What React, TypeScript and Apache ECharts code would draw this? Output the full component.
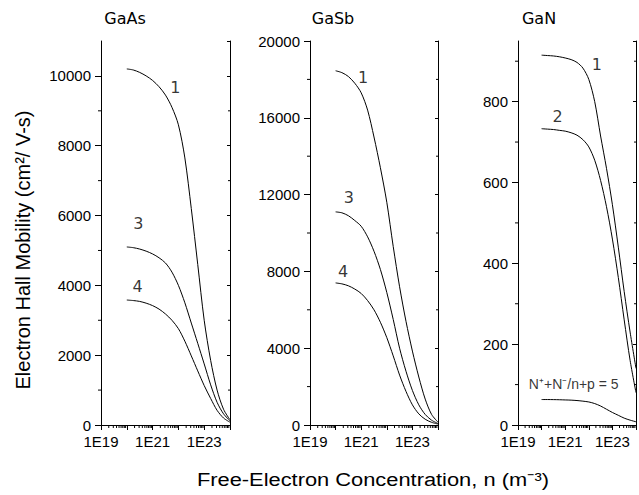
import React, { useEffect, useRef } from 'react';
import * as echarts from 'echarts';

// Free-electron concentration n (m^-3), quarter-decade sample points shared by all curves
const concentration = [
  1e20, 1.78e20, 3.16e20, 5.62e20, 1e21, 1.78e21, 3.16e21, 5.62e21, 1e22,
  1.78e22, 3.16e22, 5.62e22, 1e23, 1.78e23, 3.16e23, 5.62e23, 1e24,
];

// GaAs mobility (cm^2/V-s)
const gaAs1 = [10200, 10170, 10100, 10000, 9870, 9690, 9450, 9100, 8600, 7650, 6200, 4600, 3000, 1850, 1000, 450, 150];
const gaAs3 = [5100, 5080, 5040, 4980, 4900, 4790, 4640, 4380, 4000, 3500, 2920, 2340, 1750, 1150, 650, 320, 120];
const gaAs4 = [3580, 3565, 3540, 3490, 3420, 3320, 3180, 3000, 2760, 2400, 1980, 1550, 1130, 760, 420, 200, 80];

// GaSb mobility
const gaSb1 = [18450, 18350, 18150, 17800, 17300, 16400, 15000, 13400, 11600, 9300, 7200, 5400, 3850, 2500, 1350, 550, 150];
const gaSb3 = [11100, 11050, 10900, 10650, 10350, 9800, 9050, 8100, 6900, 5500, 4000, 2800, 1800, 1050, 550, 250, 80];
const gaSb4 = [7400, 7350, 7250, 7080, 6850, 6480, 6000, 5350, 4550, 3600, 2600, 1750, 1050, 580, 300, 140, 50];

// GaN mobility
const gaN1 = [915, 914, 913, 911, 908, 904, 897, 883, 855, 800, 715, 635, 545, 440, 330, 230, 140];
const gaN2 = [733, 732, 731, 729, 727, 723, 717, 706, 688, 655, 605, 540, 460, 365, 260, 160, 80];
const gaN5 = [63, 63, 62.8, 62.5, 62, 61.5, 60.5, 59, 57, 53, 47, 39, 31, 24, 17, 12, 8];

// Curve annotations (data coordinates)
const gaAsNotes = [
  { name: '1', value: [7.6e21, 9670] },
  { name: '3', value: [2.8e20, 5760] },
  { name: '4', value: [2.6e20, 3980] },
];
const gaSbNotes = [
  { name: '1', value: [1.18e21, 18100] },
  { name: '3', value: [3.3e20, 11850] },
  { name: '4', value: [1.95e20, 8020] },
];
const gaNNotes = [
  { name: '1', value: [2.2e22, 893] },
  { name: '2', value: [4.8e20, 764] },
];
const gaNRatioNote = [{ name: 'N⁺+N⁻/n+p = 5', value: [2.3e21, 101] }];

const panelTitles = ['GaAs', 'GaSb', 'GaN'];
const yMaxes = [11000, 20000, 950];
const yIntervals = [2000, 4000, 200];
const yMinorTicks = [
  [1000, 3000, 5000, 7000, 9000],
  [2000, 6000, 10000, 14000, 18000],
  [100, 300, 500, 700, 900],
];
const decadeStarts = [1e19, 1e20, 1e21, 1e22, 1e23];
const minorMultipliers = [2, 3, 4, 5, 6, 7, 8, 9];

const yAxisTitle = 'Electron Hall Mobility (cm²/ V-s)';
const xAxisTitle = 'Free-Electron Concentration, n (m⁻³)';

const BLACK = '#000';
const TICK_FONT = 'Liberation Sans';
const NOTE_FONT = 'DejaVu Sans';

export default function App() {
  const ref = useRef<HTMLDivElement>(null);

  useEffect(() => {
    if (!ref.current) return;
    const chart = echarts.init(ref.current, undefined, { renderer: 'svg' });

    const layout = [
      { left: 101, width: 129 },
      { left: 310, width: 128 },
      { left: 518, width: 128 },
    ];
    const curves = [
      [gaAs1, gaAs3, gaAs4],
      [gaSb1, gaSb3, gaSb4],
      [gaN1, gaN2, gaN5],
    ];
    const notes = [gaAsNotes, gaSbNotes, gaNNotes];

    const grids: any[] = [];
    const xAxes: any[] = [];
    const yAxes: any[] = [];
    const series: any[] = [];

    const xMinor: number[][] = [];
    decadeStarts.forEach((d) => minorMultipliers.forEach((m) => xMinor.push([d * m, 0])));

    const noteLabel = (font: string, size: number) => ({
      show: true,
      position: 'inside',
      formatter: (p: any) => p.name,
      color: BLACK,
      textBorderWidth: 0,
      fontFamily: font,
      fontSize: size,
    });

    layout.forEach((l, i) => {
      grids.push({ left: l.left, width: l.width, top: 41, height: 384, containLabel: false });
      xAxes.push({
        type: 'log',
        logBase: 10,
        gridIndex: i,
        min: 1e19,
        max: 1e24,
        splitNumber: 5,
        axisLine: { show: true, lineStyle: { color: BLACK, width: 1 } },
        axisTick: { show: true, length: 5, lineStyle: { color: BLACK } },
        axisLabel: {
          color: BLACK,
          fontFamily: TICK_FONT,
          fontSize: 15,
          margin: 9,
          formatter: (v: number) => {
            const e = Math.round(Math.log10(v));
            return e % 2 === 1 ? '1E' + e : '';
          },
        },
        splitLine: { show: false },
      });
      xAxes.push({
        type: 'log',
        logBase: 10,
        gridIndex: i,
        position: 'top',
        min: 1e19,
        max: 1e24,
        axisLine: { show: true, lineStyle: { color: BLACK, width: 1 } },
        axisTick: { show: false },
        axisLabel: { show: false },
        splitLine: { show: false },
      });
      yAxes.push({
        type: 'value',
        gridIndex: i,
        min: 0,
        max: yMaxes[i],
        interval: yIntervals[i],
        axisLine: { show: true, lineStyle: { color: BLACK, width: 1 } },
        axisTick: { show: true, length: 6, lineStyle: { color: BLACK } },
        axisLabel: {
          color: BLACK,
          fontFamily: TICK_FONT,
          fontSize: 15,
          margin: 10,
          showMaxLabel: i === 1,
          formatter: (v: number) => String(v),
        },
        splitLine: { show: false },
      });
      yAxes.push({
        type: 'value',
        gridIndex: i,
        position: 'right',
        min: 0,
        max: yMaxes[i],
        interval: yIntervals[i],
        axisLine: { show: true, lineStyle: { color: BLACK, width: 1 } },
        axisTick: { show: true, inside: true, length: 3, lineStyle: { color: BLACK } },
        axisLabel: { show: false },
        splitLine: { show: false },
      });

      curves[i].forEach((vals) => {
        series.push({
          type: 'line',
          xAxisIndex: 2 * i,
          yAxisIndex: 2 * i,
          data: concentration.map((n, k) => [n, vals[k]]),
          smooth: 0.3,
          symbol: 'none',
          lineStyle: { color: BLACK, width: 1 },
          silent: true,
        });
      });

      series.push({
        type: 'scatter',
        xAxisIndex: 2 * i,
        yAxisIndex: 2 * i,
        data: notes[i],
        symbolSize: 1,
        itemStyle: { color: 'rgba(0,0,0,0)' },
        label: noteLabel(NOTE_FONT, 16),
        silent: true,
      });

      // log minor ticks on x axis
      series.push({
        type: 'custom',
        xAxisIndex: 2 * i,
        yAxisIndex: 2 * i,
        data: xMinor,
        clip: false,
        silent: true,
        renderItem: (_p: any, api: any) => {
          const pt = api.coord([api.value(0), 0]);
          return {
            type: 'line',
            shape: { x1: pt[0], y1: pt[1], x2: pt[0], y2: pt[1] + 3 },
            style: { stroke: BLACK, lineWidth: 1 },
          };
        },
      });

      // minor ticks on y axes
      series.push({
        type: 'custom',
        xAxisIndex: 2 * i,
        yAxisIndex: 2 * i,
        data: yMinorTicks[i].map((v) => [1e19, v]),
        clip: false,
        silent: true,
        renderItem: (_p: any, api: any) => {
          const a = api.coord([1e19, api.value(1)]);
          const b = api.coord([1e24, api.value(1)]);
          return {
            type: 'group',
            children: [
              { type: 'line', shape: { x1: a[0] - 3, y1: a[1], x2: a[0], y2: a[1] }, style: { stroke: BLACK, lineWidth: 1 } },
              { type: 'line', shape: { x1: b[0] - 2, y1: b[1], x2: b[0], y2: b[1] }, style: { stroke: BLACK, lineWidth: 1 } },
            ],
          };
        },
      });
    });

    series.push({
      type: 'scatter',
      xAxisIndex: 4,
      yAxisIndex: 4,
      data: gaNRatioNote,
      symbolSize: 1,
      itemStyle: { color: 'rgba(0,0,0,0)' },
      label: noteLabel(TICK_FONT, 14),
      silent: true,
    });

    const titleX = [125, 333, 539];

    chart.setOption({
      animation: false,
      backgroundColor: '#fff',
      grid: grids,
      xAxis: xAxes,
      yAxis: yAxes,
      series,
      graphic: [
        ...panelTitles.map((t, i) => ({
          type: 'text',
          x: titleX[i],
          y: 18,
          style: { text: t, fontFamily: NOTE_FONT, fontSize: 16, fill: BLACK, align: 'center', verticalAlign: 'middle' },
        })),
        {
          type: 'text',
          x: 23,
          y: 250,
          rotation: Math.PI / 2,
          style: { text: yAxisTitle, fontFamily: TICK_FONT, fontSize: 20, fill: BLACK, align: 'center', verticalAlign: 'middle' },
        },
        {
          type: 'text',
          x: 373,
          y: 479,
          scaleX: 1.15,
          style: { text: xAxisTitle, fontFamily: TICK_FONT, fontSize: 19, fill: BLACK, align: 'center', verticalAlign: 'middle' },
        },
      ],
    });

    return () => chart.dispose();
  }, []);

  return <div ref={ref} style={{ position: 'absolute', left: 0, top: 0, width: 639, height: 495 }} />;
}
